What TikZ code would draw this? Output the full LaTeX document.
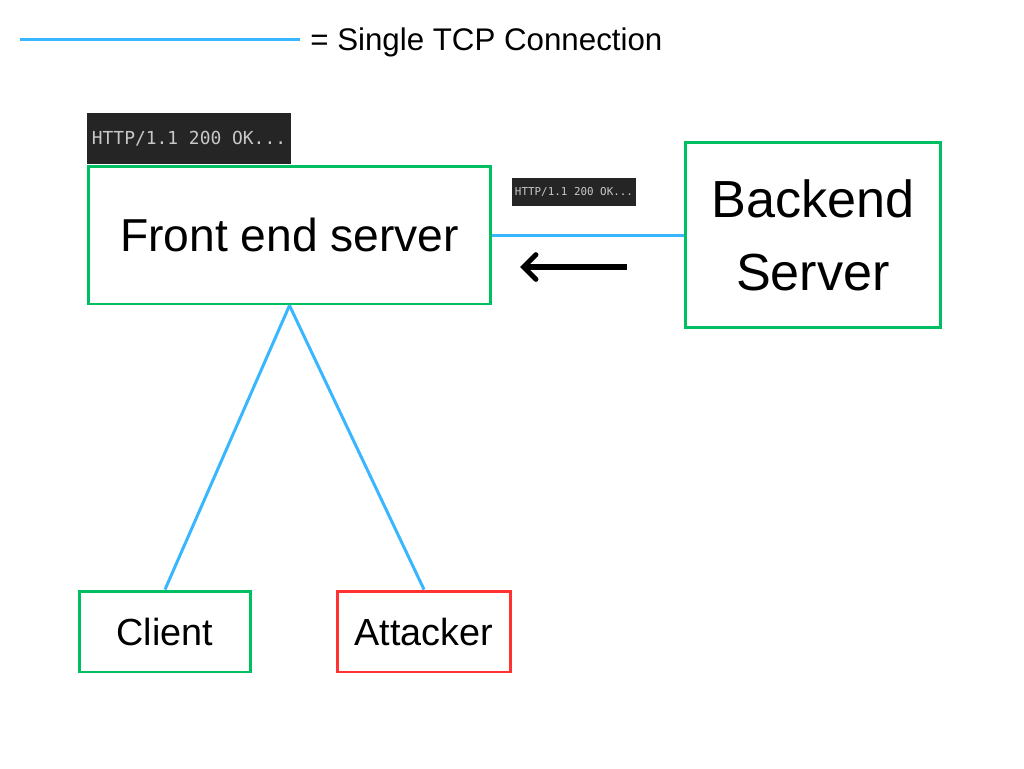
\documentclass[tikz,border=0pt]{standalone}
\usepackage{fontspec}
\setmainfont{Liberation Sans}
\newfontfamily\codefont{DejaVu Sans Mono}
\usetikzlibrary{positioning,arrows.meta}
\definecolor{boxgreen}{RGB}{0,191,99}
\definecolor{boxred}{RGB}{255,49,49}
\definecolor{tcpblue}{RGB}{56,182,255}
\definecolor{termbg}{RGB}{37,37,38}
\definecolor{termtext}{RGB}{200,200,200}

\begin{document}
\begin{tikzpicture}[x=0.02cm, y=-0.02cm,
  server/.style={draw=boxgreen, line width=1.7pt, align=center, inner sep=0pt},
  term/.style={fill=termbg, text=termtext, inner sep=0pt},
  tcp/.style={draw=tcpblue, line width=1.7pt}]

\useasboundingbox (0,0) rectangle (1024,768);

% ================= LEGEND =================
\coordinate (legstart) at (20,39.5);
\node[anchor=base west, font=\fontsize{17.8}{22}\selectfont, inner sep=0pt] (legend) at (310,50) {= Single TCP Connection};
\draw[tcp] (legstart) -- ++(280,0) coordinate (legend end);

% ================= SERVERS =================
\node[server, minimum width=8.06cm, minimum height=2.76cm,
  font=\fontsize{26.3}{32}\selectfont] (front) at (289.5,235) {Front end server};
\node[server, minimum width=5.12cm, minimum height=3.72cm,
  font=\fontsize{29.7}{41.5}\selectfont] (backend) at (813,235) {Backend\\Server};

% ================= CLIENTS =================
\node[server, minimum width=3.44cm, minimum height=1.62cm,
  font=\fontsize{21.5}{26}\selectfont] (client) at (165,631.5) {Client};
\node[server, draw=boxred, minimum width=3.48cm, minimum height=1.62cm,
  font=\fontsize{21.5}{26}\selectfont] (attacker) at (424,631.5) {Attacker};

% ================= RESPONSES =================
\node[term, minimum width=4.08cm, minimum height=1.02cm,
  font=\codefont\fontsize{10.2}{12}\selectfont] (resp front) at (189,138.5) {HTTP/1.1 200 OK...};
\node[term, minimum width=2.48cm, minimum height=0.56cm,
  font=\codefont\fontsize{6.2}{8}\selectfont] (resp back) at (574,192) {HTTP/1.1 200 OK...};

% ================= CONNECTIONS =================
\draw[tcp] (front.east) -- (backend.west);
\draw[tcp] (front.south) -- (client.north);
\draw[tcp] (front.south) -- (attacker.north);

% Response direction
\coordinate (arrow start) at (627,267);
\coordinate (arrow end) at (520,267);
\draw[line width=2.9pt, -{Straight Barb[length=7pt, width=14pt, line cap=round]}] (arrow start) -- (arrow end);

\end{tikzpicture}
\end{document}
